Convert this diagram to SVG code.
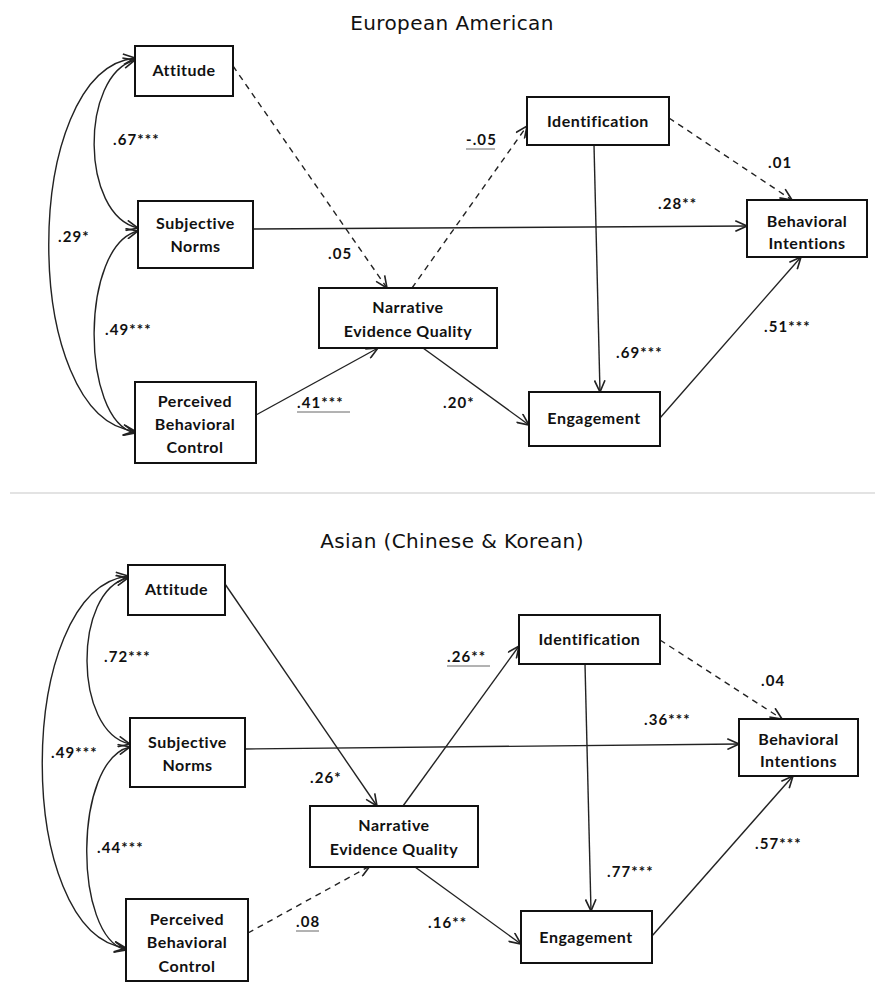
<svg xmlns="http://www.w3.org/2000/svg" width="885" height="987" viewBox="0 0 885 987">
<style>
.box{fill:#fff;stroke:#111;stroke-width:2}
.nt{font-family:Lato,"Liberation Sans",sans-serif;font-weight:bold;font-size:16px;letter-spacing:0.5px;fill:#111;text-anchor:middle}
.lb{font-family:Lato,"Liberation Sans",sans-serif;font-weight:bold;font-size:15px;letter-spacing:1.1px;fill:#111}
.ttl{font-family:"DejaVu Sans",Verdana,sans-serif;font-size:20px;letter-spacing:0.4px;fill:#111;text-anchor:middle}
.c{fill:none;stroke:#222;stroke-width:1.4}
.d{stroke-dasharray:6,5}
.two{marker-start:url(#ah);marker-end:url(#ah)}
.one{marker-end:url(#ah)}
.ul{stroke:#666;stroke-width:1}
</style>
<defs>
<marker id="ah" markerUnits="userSpaceOnUse" markerWidth="14" markerHeight="12" refX="11" refY="5" orient="auto-start-reverse" viewBox="0 0 12 10">
<path d="M1,0.5 L11,5 L1,9.5" fill="none" stroke="#222" stroke-width="1.4"/>
</marker>
</defs>

<text class="ttl" x="452" y="30">European American</text>
<line x1="10" y1="493" x2="875" y2="493" stroke="#c8c8c8" stroke-width="1.2"/>
<text class="ttl" x="452" y="548">Asian (Chinese &amp; Korean)</text>

<g id="connectors">
<!-- top -->
<path class="c two" d="M135,60 C80,75 80,215 138,228"/>
<path class="c two" d="M135,58 C20,70 20,420 135,431"/>
<path class="c two" d="M138,231 C80,245 80,420 135,433"/>
<path class="c d one" d="M233,66 L387,288"/>
<path class="c d one" d="M412,288 L527,126"/>
<path class="c one" d="M253,229 L747,226"/>
<path class="c d one" d="M669,118 L792,200"/>
<path class="c one" d="M594,145 L600,392"/>
<path class="c one" d="M256,415 L378,348"/>
<path class="c one" d="M423,348 L529,425"/>
<path class="c one" d="M660,418 L801,257"/>
<!-- bottom -->
<path class="c two" d="M128,578 C73,590 73,732 130,744"/>
<path class="c two" d="M128,576 C14,590 14,935 126,948"/>
<path class="c two" d="M130,747 C73,760 73,937 126,950"/>
<path class="c one" d="M225,584 L377,806"/>
<path class="c one" d="M403,806 L519,646"/>
<path class="c one" d="M245,749 L739,744"/>
<path class="c d one" d="M660,640 L782,719"/>
<path class="c one" d="M585,664 L591,911"/>
<path class="c d one" d="M248,933 L370,866"/>
<path class="c one" d="M415,867 L521,944"/>
<path class="c one" d="M652,936 L793,776"/>
</g>

<g id="labels">
<text class="lb" x="113" y="145">.67***</text>
<text class="lb" x="58" y="242">.29*</text>
<text class="lb" x="105" y="335">.49***</text>
<text class="lb" x="328" y="259">.05</text>
<text class="lb" x="466" y="145">-.05</text>
<line class="ul" x1="466" y1="149" x2="495" y2="149"/>
<text class="lb" x="768" y="168">.01</text>
<text class="lb" x="658" y="209">.28**</text>
<text class="lb" x="297" y="408">.41***</text>
<line class="ul" x1="297" y1="412" x2="350" y2="412"/>
<text class="lb" x="443" y="408">.20*</text>
<text class="lb" x="616" y="358">.69***</text>
<text class="lb" x="764" y="332">.51***</text>

<text class="lb" x="104" y="662">.72***</text>
<text class="lb" x="51" y="758">.49***</text>
<text class="lb" x="97" y="853">.44***</text>
<text class="lb" x="310" y="783">.26*</text>
<text class="lb" x="296" y="927">.08</text>
<line class="ul" x1="296" y1="931" x2="319" y2="931"/>
<text class="lb" x="428" y="928">.16**</text>
<text class="lb" x="447" y="662">.26**</text>
<line class="ul" x1="447" y1="666" x2="490" y2="666"/>
<text class="lb" x="761" y="686">.04</text>
<text class="lb" x="644" y="725">.36***</text>
<text class="lb" x="607" y="877">.77***</text>
<text class="lb" x="755" y="849">.57***</text>
</g>

<!-- top nodes -->
<g id="att1"><rect class="box" x="135" y="46" width="98" height="50"/><text class="nt" x="184" y="76">Attitude</text></g>
<g id="sn1"><rect class="box" x="138" y="201" width="115" height="67"/><text class="nt" x="195.5" y="229">Subjective</text><text class="nt" x="195.5" y="252">Norms</text></g>
<g id="pbc1"><rect class="box" x="135" y="382" width="121" height="81"/><text class="nt" x="195" y="407">Perceived</text><text class="nt" x="195" y="430">Behavioral</text><text class="nt" x="195" y="453">Control</text></g>
<g id="neq1"><rect class="box" x="319" y="288" width="178" height="60"/><text class="nt" x="408" y="313">Narrative</text><text class="nt" x="408" y="337">Evidence Quality</text></g>
<g id="id1"><rect class="box" x="527" y="97" width="142" height="48"/><text class="nt" x="598" y="127">Identification</text></g>
<g id="bi1"><rect class="box" x="747" y="200" width="120" height="57"/><text class="nt" x="807" y="227">Behavioral</text><text class="nt" x="807" y="249">Intentions</text></g>
<g id="eng1"><rect class="box" x="529" y="392" width="131" height="54"/><text class="nt" x="594" y="424">Engagement</text></g>

<!-- bottom nodes -->
<g id="att2"><rect class="box" x="128" y="565" width="97" height="50"/><text class="nt" x="176.5" y="595">Attitude</text></g>
<g id="sn2"><rect class="box" x="130" y="718" width="115" height="69"/><text class="nt" x="187.5" y="748">Subjective</text><text class="nt" x="187.5" y="771">Norms</text></g>
<g id="pbc2"><rect class="box" x="126" y="899" width="122" height="82"/><text class="nt" x="187" y="925">Perceived</text><text class="nt" x="187" y="948">Behavioral</text><text class="nt" x="187" y="972">Control</text></g>
<g id="neq2"><rect class="box" x="310" y="806" width="168" height="61"/><text class="nt" x="394" y="831">Narrative</text><text class="nt" x="394" y="855">Evidence Quality</text></g>
<g id="id2"><rect class="box" x="519" y="615" width="141" height="49"/><text class="nt" x="589.5" y="645">Identification</text></g>
<g id="bi2"><rect class="box" x="739" y="719" width="119" height="57"/><text class="nt" x="798.5" y="745">Behavioral</text><text class="nt" x="798.5" y="767">Intentions</text></g>
<g id="eng2"><rect class="box" x="521" y="911" width="131" height="52"/><text class="nt" x="586" y="943">Engagement</text></g>
</svg>
